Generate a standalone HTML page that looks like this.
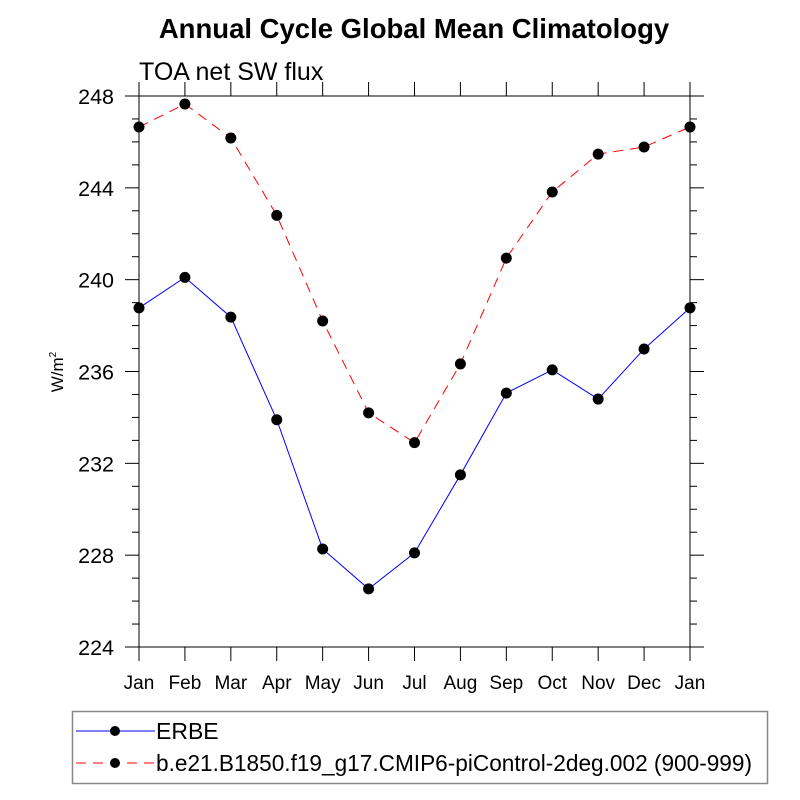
<!DOCTYPE html>
<html><head><meta charset="utf-8"><style>body{margin:0;background:#fff}svg{display:block;font-family:"Liberation Sans",sans-serif}</style></head>
<body>
<svg id="chart" width="800" height="800" viewBox="0 0 800 800">
<rect width="800" height="800" fill="#fff"/>
<text x="414" y="38" text-anchor="middle" font-size="27.5" font-weight="bold">Annual Cycle Global Mean Climatology</text>
<text x="139" y="80" font-size="25">TOA net SW flux</text>
<text transform="translate(63,372) rotate(-90)" text-anchor="middle" font-size="17">W/m<tspan dy="-7" font-size="10">2</tspan></text>
<g id="axes"></g>
<g id="series"></g>
<g>
<rect x="72.5" y="711.5" width="695" height="72" fill="none" stroke="#888" stroke-width="1.5"/>
<line x1="76" y1="731" x2="155" y2="731" stroke="#0000ff" stroke-width="1"/>
<circle cx="115" cy="731" r="5" fill="#000"/>
<text x="156" y="739" font-size="23">ERBE</text>
<line x1="76" y1="763" x2="155" y2="763" stroke="#ff0000" stroke-width="1" stroke-dasharray="10,7"/>
<circle cx="115" cy="763" r="5" fill="#000"/>
<text x="156" y="771" font-size="23" textLength="596" lengthAdjust="spacingAndGlyphs">b.e21.B1850.f19_g17.CMIP6-piControl-2deg.002 (900-999)</text>
</g>
</svg>
<script>
const months = ["Jan","Feb","Mar","Apr","May","Jun","Jul","Aug","Sep","Oct","Nov","Dec","Jan"];
const erbe = [238.77,240.1,238.37,233.9,228.27,226.53,228.1,231.5,235.06,236.07,234.8,236.98,238.77];
const model = [246.65,247.65,246.17,242.8,238.2,234.2,232.9,236.33,240.94,243.82,245.47,245.78,246.65];
const yTicks = [224,228,232,236,240,244,248];
const X0=139,X1=690,Y0=647,Y1=96,YMIN=224,YMAX=248;
const xs=i=>X0+i*(X1-X0)/(months.length-1);
const ys=v=>Y0-(v-YMIN)/(YMAX-YMIN)*(Y0-Y1);
const NS="http://www.w3.org/2000/svg";
function mk(t,a,p){const e=document.createElementNS(NS,t);for(const k in a)e.setAttribute(k,a[k]);p.appendChild(e);return e;}
const ax=document.getElementById('axes');
const fr=mk('rect',{x:X0,y:Y1,width:X1-X0,height:Y0-Y1,fill:'none',stroke:'#000','stroke-width':1},ax);


for(let v=YMIN;v<=YMAX;v++){const y=ys(v);const maj=(v%4===0);const L=maj?14:7;
mk('line',{x1:X0-L,y1:y,x2:X0,y2:y,stroke:'#000','stroke-width':1},ax);
mk('line',{x1:X1,y1:y,x2:X1+L,y2:y,stroke:'#000','stroke-width':1},ax);}
yTicks.forEach(v=>{const t=mk('text',{x:X0-25,y:ys(v)+8,'text-anchor':'end','font-size':21.5},ax);t.textContent=v;

});
months.forEach((m,i)=>{const x=xs(i);
mk('line',{x1:x,y1:Y0,x2:x,y2:Y0+14,stroke:'#000','stroke-width':1},ax);
mk('line',{x1:x,y1:Y1-14,x2:x,y2:Y1,stroke:'#000','stroke-width':1},ax);
const t=mk('text',{x:x,y:Y0+42,'text-anchor':'middle','font-size':19},ax);t.textContent=m;

});
const sg=document.getElementById('series');
function draw(vals,color,dash,name){const pts=vals.map((v,i)=>xs(i)+','+ys(v)).join(' ');
const pl=mk('polyline',{points:pts,fill:'none',stroke:color,'stroke-width':1,'stroke-dasharray':dash},sg);


vals.forEach((v,i)=>{const c=mk('circle',{cx:xs(i),cy:ys(v),r:5.5,fill:'#000'},sg);

});}
draw(model,'#ff0000','10,7','model');
draw(erbe,'#0000ff','none','erbe');
</script>
</body></html>
